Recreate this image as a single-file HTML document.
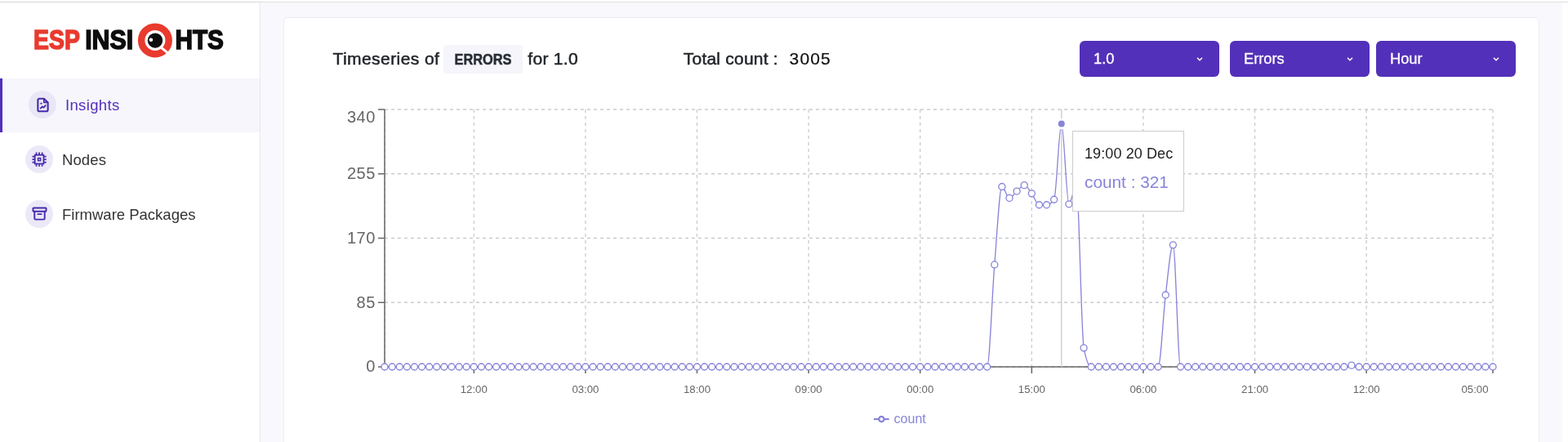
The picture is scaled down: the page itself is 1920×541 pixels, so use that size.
<!DOCTYPE html>
<html lang="en">
<head>
<meta charset="utf-8">
<title>ESP Insights</title>
<style>
*{box-sizing:border-box;margin:0;padding:0}
html,body{width:1920px;height:541px;overflow:hidden;background:#f9f9fd;font-family:"Liberation Sans",sans-serif;color:#212529}
body{position:relative}
.topbar{position:absolute;left:0;top:0;width:1920px;height:3px;background:#fff;border-bottom:1px solid #dedede}
.topbar i{position:absolute;left:0;top:2px;width:319px;height:1px;background:#d6d6d6}
.scroll{position:absolute;left:1913px;top:3px;width:7px;height:538px;background:#fff}
.side{position:absolute;left:0;top:3px;width:319px;height:538px;background:#fff;border-right:1px solid #e8e8f1}
.logo{position:absolute;left:0;top:0;width:319px;height:96px}
.nav{position:absolute;left:0;width:318px;height:66px}
.nav.on{top:96px;background:#f6f6fc;border-left:3px solid #5330b9}
.nav .ic{position:absolute;width:34px;height:34px;border-radius:50%;background:#ebe9f7}
.nav .gi{position:absolute}
.nav .tx{position:absolute;font-size:18.5px;line-height:22px;white-space:nowrap;color:#333}
.nav.on .tx{color:#5330b9}
.card{position:absolute;left:347px;top:21px;width:1537.5px;height:540px;background:#fff;border:1px solid #ebebf3;border-radius:5px}
.t{position:absolute;white-space:nowrap;font-size:21px;line-height:24px;color:#212529}
.m{-webkit-text-stroke:0.5px currentColor}
.badge{position:absolute;left:543px;top:55px;width:97px;height:35px;background:#f5f5fb;border-radius:3px}
.badge span{position:absolute;left:0;top:0;width:97px;height:35px;line-height:35px;text-align:center;font-weight:700;font-size:19px;color:#2a2d34;transform:scaleX(.86);-webkit-text-stroke:0.5px #2a2d34}
.dd{position:absolute;top:50px;width:171px;height:44px;background:#5330b9;border-radius:6px;color:#fff;font-size:18.3px;line-height:44px;padding-left:17px;-webkit-text-stroke:0.3px #fff}
.dd svg{position:absolute;right:19.8px;top:20.3px}
.chart{position:absolute;left:0;top:0}
.chart .xl{font-size:13.2px}
.chart .yl{font-size:20px;letter-spacing:.5px}
.chart .lg text{font-size:16px}
.tip{position:absolute;left:1313px;top:160px;width:137px;height:99px;background:#fff;border:1px solid #ccc}
.tip .a{position:absolute;left:14px;top:16px;font-size:18px;line-height:22px;color:#222;white-space:nowrap;letter-spacing:.1px}
.tip .b{position:absolute;left:14px;top:50px;font-size:20.8px;line-height:24px;color:#8884d8;white-space:nowrap}
</style>
</head>
<body>
<div class="topbar"><i></i></div>
<div class="scroll"></div>
<div class="side">
  <div class="logo">
    <svg width="319" height="96" viewBox="0 0 319 96" style="position:absolute;left:0;top:-3px">
      <g font-family="Liberation Sans, sans-serif" font-weight="700" font-size="32.5" stroke-width="1.5" stroke-linejoin="miter">
        <text x="41.1" y="60.3" fill="#e93a2e" stroke="#e93a2e" textLength="56.8" lengthAdjust="spacingAndGlyphs">ESP</text>
        <text x="104.2" y="60.3" fill="#0d0d0d" stroke="#0d0d0d" textLength="58.9" lengthAdjust="spacingAndGlyphs">INSI</text>
        <text x="214.4" y="60.3" fill="#0d0d0d" stroke="#0d0d0d" textLength="59.6" lengthAdjust="spacingAndGlyphs">HTS</text>
      </g>
      <circle cx="189.9" cy="49.4" r="16.75" fill="#fff" stroke="#e93a2e" stroke-width="8.5"/>
      <path d="M196.5,57.5 L208,66.8" stroke="#fff" stroke-width="3" fill="none"/>
      <circle cx="190" cy="49.6" r="9.2" fill="#0d0d0d"/>
      <circle cx="184.9" cy="48.8" r="2.3" fill="#fff"/>
    </svg>
  </div>
  <div class="nav on" style="top:93px">
    <div class="ic" style="left:31.6px;top:15.3px;background:#e9e7f5"></div>
    <svg class="gi" style="left:38.6px;top:21.8px" width="21" height="21" viewBox="0 0 24 24" fill="none" stroke="#472aac" stroke-width="2.4" stroke-linejoin="round" stroke-linecap="round"><path d="M13.5 3.1H7a2 2 0 0 0-2 2v13.8a2 2 0 0 0 2 2h10a2 2 0 0 0 2-2V8.6z"/><path d="M13.5 3.3V8.5h5.3" stroke-width="1.9"/><path d="M8.8 16.6l2.4-2.4 1.9 1.3 2.6-2.9" stroke-width="2.1"/><path d="M9.3 9.9h.7" stroke-width="2.1"/></svg>
    <div class="tx" style="left:77px;top:22px;letter-spacing:.34px">Insights</div>
  </div>
  <div class="nav" style="top:159px">
    <div class="ic" style="left:31px;top:16.2px"></div>
    <svg class="gi" style="left:37.7px;top:23.1px" width="20.2" height="20.2" viewBox="0 0 24 24" fill="none" stroke="#472aac" stroke-width="2.1" stroke-linejoin="miter" stroke-linecap="butt"><rect x="5.6" y="5.6" width="12.8" height="12.8"/><rect x="10.2" y="10.2" width="3.6" height="3.6" stroke-width="1.9"/><path d="M7.8 1.8v3M12 1.8v3M16.2 1.8v3M7.8 19.2v3M12 19.2v3M16.2 19.2v3M1.8 7.8h3M1.8 12h3M1.8 16.2h3M19.2 7.8h3M19.2 12h3M19.2 16.2h3" stroke-width="2.1"/></svg>
    <div class="tx" style="left:76px;top:23px;letter-spacing:.1px">Nodes</div>
  </div>
  <div class="nav" style="top:226px">
    <div class="ic" style="left:31px;top:16px"></div>
    <svg class="gi" style="left:37.6px;top:22.2px" width="21" height="21" viewBox="0 0 24 24" fill="none" stroke="#472aac" stroke-width="2.2" stroke-linejoin="round" stroke-linecap="round"><rect x="2.8" y="3.9" width="18.4" height="5" rx=".8"/><path d="M4.9 9v9.7a1.4 1.4 0 0 0 1.4 1.4h11.4a1.4 1.4 0 0 0 1.4-1.4V9"/><path d="M9.4 12.7h5.2" stroke-width="2"/></svg>
    <div class="tx" style="left:76px;top:23px">Firmware Packages</div>
  </div>
</div>
<div class="card"></div>
<div class="t m" style="left:407.5px;top:60px;letter-spacing:.43px">Timeseries of</div>
<div class="badge"><span>ERRORS</span></div>
<div class="t m" style="left:646.3px;top:60px;letter-spacing:.3px">for 1.0</div>
<div class="t m" style="left:836.8px;top:60px;letter-spacing:.22px">Total count :</div>
<div class="t" style="left:966.6px;top:60px;letter-spacing:1.15px;color:#111;-webkit-text-stroke:.2px #111">3005</div>
<div class="dd" style="left:1322px">1.0<svg width="8" height="5" viewBox="0 0 8 5"><path d="M1 .8l3 3 3-3" fill="none" stroke="#fff" stroke-width="1.5"/></svg></div>
<div class="dd" style="left:1506px">Errors<svg width="8" height="5" viewBox="0 0 8 5"><path d="M1 .8l3 3 3-3" fill="none" stroke="#fff" stroke-width="1.5"/></svg></div>
<div class="dd" style="left:1685px">Hour<svg width="8" height="5" viewBox="0 0 8 5"><path d="M1 .8l3 3 3-3" fill="none" stroke="#fff" stroke-width="1.5"/></svg></div>
<svg class="chart" width="1920" height="541" viewBox="0 0 1920 541">
<g stroke="#ccc" stroke-width="1.33" stroke-dasharray="4 4" fill="none"><line x1="471" y1="449.00" x2="1828" y2="449.00"/><line x1="471" y1="370.25" x2="1828" y2="370.25"/><line x1="471" y1="291.50" x2="1828" y2="291.50"/><line x1="471" y1="212.75" x2="1828" y2="212.75"/><line x1="471" y1="134.00" x2="1828" y2="134.00"/><line x1="471.00" y1="134" x2="471.00" y2="449"/><line x1="580.29" y1="134" x2="580.29" y2="449"/><line x1="716.90" y1="134" x2="716.90" y2="449"/><line x1="853.51" y1="134" x2="853.51" y2="449"/><line x1="990.12" y1="134" x2="990.12" y2="449"/><line x1="1126.73" y1="134" x2="1126.73" y2="449"/><line x1="1263.34" y1="134" x2="1263.34" y2="449"/><line x1="1399.95" y1="134" x2="1399.95" y2="449"/><line x1="1536.56" y1="134" x2="1536.56" y2="449"/><line x1="1673.17" y1="134" x2="1673.17" y2="449"/><line x1="1828.00" y1="134" x2="1828.00" y2="449"/></g>
<g stroke="#666" stroke-width="1.5" fill="none"><line x1="471.0" y1="449.0" x2="1828.0" y2="449.0"/><line x1="580.29" y1="449" x2="580.29" y2="457"/><line x1="716.90" y1="449" x2="716.90" y2="457"/><line x1="853.51" y1="449" x2="853.51" y2="457"/><line x1="990.12" y1="449" x2="990.12" y2="457"/><line x1="1126.73" y1="449" x2="1126.73" y2="457"/><line x1="1263.34" y1="449" x2="1263.34" y2="457"/><line x1="1399.95" y1="449" x2="1399.95" y2="457"/><line x1="1536.56" y1="449" x2="1536.56" y2="457"/><line x1="1673.17" y1="449" x2="1673.17" y2="457"/><line x1="1828.00" y1="449" x2="1828.00" y2="457"/></g>
<g stroke="#666" stroke-width="1.5" fill="none"><line x1="471.0" y1="134.0" x2="471.0" y2="449.0"/><line x1="463" y1="449.00" x2="471" y2="449.00"/><line x1="463" y1="370.25" x2="471" y2="370.25"/><line x1="463" y1="291.50" x2="471" y2="291.50"/><line x1="463" y1="212.75" x2="471" y2="212.75"/><line x1="463" y1="134.00" x2="471" y2="134.00"/></g>
<g class="xl" fill="#666" text-anchor="middle"><text x="580.29" y="480.9">12:00</text><text x="716.90" y="480.9">03:00</text><text x="853.51" y="480.9">18:00</text><text x="990.12" y="480.9">09:00</text><text x="1126.73" y="480.9">00:00</text><text x="1263.34" y="480.9">15:00</text><text x="1399.95" y="480.9">06:00</text><text x="1536.56" y="480.9">21:00</text><text x="1673.17" y="480.9">12:00</text><text x="1806.00" y="480.9">05:00</text></g>
<g class="yl" fill="#666" text-anchor="end"><text x="459.8" y="455.40">0</text><text x="459.8" y="376.65">85</text><text x="459.8" y="297.90">170</text><text x="459.8" y="219.15">255</text><text x="459.8" y="150.30">340</text></g>
<line x1="1299.77" y1="134.0" x2="1299.77" y2="449.0" stroke="#ccc" stroke-width="1.33"/>
<path d="M471.00,449.00C474.04,449.00,477.07,449.00,480.11,449.00C483.14,449.00,486.18,449.00,489.21,449.00C492.25,449.00,495.29,449.00,498.32,449.00C501.36,449.00,504.39,449.00,507.43,449.00C510.47,449.00,513.50,449.00,516.54,449.00C519.57,449.00,522.61,449.00,525.64,449.00C528.68,449.00,531.72,449.00,534.75,449.00C537.79,449.00,540.82,449.00,543.86,449.00C546.89,449.00,549.93,449.00,552.97,449.00C556.00,449.00,559.04,449.00,562.07,449.00C565.11,449.00,568.15,449.00,571.18,449.00C574.22,449.00,577.25,449.00,580.29,449.00C583.32,449.00,586.36,449.00,589.40,449.00C592.43,449.00,595.47,449.00,598.50,449.00C601.54,449.00,604.57,449.00,607.61,449.00C610.65,449.00,613.68,449.00,616.72,449.00C619.75,449.00,622.79,449.00,625.83,449.00C628.86,449.00,631.90,449.00,634.93,449.00C637.97,449.00,641.00,449.00,644.04,449.00C647.08,449.00,650.11,449.00,653.15,449.00C656.18,449.00,659.22,449.00,662.26,449.00C665.29,449.00,668.33,449.00,671.36,449.00C674.40,449.00,677.43,449.00,680.47,449.00C683.51,449.00,686.54,449.00,689.58,449.00C692.61,449.00,695.65,449.00,698.68,449.00C701.72,449.00,704.76,449.00,707.79,449.00C710.83,449.00,713.86,449.00,716.90,449.00C719.94,449.00,722.97,449.00,726.01,449.00C729.04,449.00,732.08,449.00,735.11,449.00C738.15,449.00,741.19,449.00,744.22,449.00C747.26,449.00,750.29,449.00,753.33,449.00C756.36,449.00,759.40,449.00,762.44,449.00C765.47,449.00,768.51,449.00,771.54,449.00C774.58,449.00,777.62,449.00,780.65,449.00C783.69,449.00,786.72,449.00,789.76,449.00C792.79,449.00,795.83,449.00,798.87,449.00C801.90,449.00,804.94,449.00,807.97,449.00C811.01,449.00,814.04,449.00,817.08,449.00C820.12,449.00,823.15,449.00,826.19,449.00C829.22,449.00,832.26,449.00,835.30,449.00C838.33,449.00,841.37,449.00,844.40,449.00C847.44,449.00,850.47,449.00,853.51,449.00C856.55,449.00,859.58,449.00,862.62,449.00C865.65,449.00,868.69,449.00,871.72,449.00C874.76,449.00,877.80,449.00,880.83,449.00C883.87,449.00,886.90,449.00,889.94,449.00C892.98,449.00,896.01,449.00,899.05,449.00C902.08,449.00,905.12,449.00,908.15,449.00C911.19,449.00,914.23,449.00,917.26,449.00C920.30,449.00,923.33,449.00,926.37,449.00C929.40,449.00,932.44,449.00,935.48,449.00C938.51,449.00,941.55,449.00,944.58,449.00C947.62,449.00,950.66,449.00,953.69,449.00C956.73,449.00,959.76,449.00,962.80,449.00C965.83,449.00,968.87,449.00,971.91,449.00C974.94,449.00,977.98,449.00,981.01,449.00C984.05,449.00,987.09,449.00,990.12,449.00C993.16,449.00,996.19,449.00,999.23,449.00C1002.26,449.00,1005.30,449.00,1008.34,449.00C1011.37,449.00,1014.41,449.00,1017.44,449.00C1020.48,449.00,1023.51,449.00,1026.55,449.00C1029.59,449.00,1032.62,449.00,1035.66,449.00C1038.69,449.00,1041.73,449.00,1044.77,449.00C1047.80,449.00,1050.84,449.00,1053.87,449.00C1056.91,449.00,1059.94,449.00,1062.98,449.00C1066.02,449.00,1069.05,449.00,1072.09,449.00C1075.12,449.00,1078.16,449.00,1081.19,449.00C1084.23,449.00,1087.27,449.00,1090.30,449.00C1093.34,449.00,1096.37,449.00,1099.41,449.00C1102.45,449.00,1105.48,449.00,1108.52,449.00C1111.55,449.00,1114.59,449.00,1117.62,449.00C1120.66,449.00,1123.70,449.00,1126.73,449.00C1129.77,449.00,1132.80,449.00,1135.84,449.00C1138.87,449.00,1141.91,449.00,1144.95,449.00C1147.98,449.00,1151.02,449.00,1154.05,449.00C1157.09,449.00,1160.13,449.00,1163.16,449.00C1166.20,449.00,1169.23,449.00,1172.27,449.00C1175.30,449.00,1178.34,449.00,1181.38,449.00C1184.41,449.00,1187.45,449.00,1190.48,449.00C1193.52,449.00,1196.55,449.00,1199.59,449.00C1202.63,449.00,1205.66,449.00,1208.70,449.00C1211.73,449.00,1214.77,360.68,1217.81,323.93C1220.84,287.18,1223.88,228.50,1226.91,228.50C1229.95,228.50,1232.98,242.40,1236.02,242.40C1239.06,242.40,1242.09,236.68,1245.13,234.06C1248.16,231.43,1251.20,226.65,1254.23,226.65C1257.27,226.65,1260.31,232.82,1263.34,236.84C1266.38,240.85,1269.41,250.74,1272.45,250.74C1275.49,250.74,1278.52,250.74,1281.56,250.74C1284.59,250.74,1287.63,248.57,1290.66,244.25C1293.70,239.93,1296.74,151.60,1299.77,151.60C1302.81,151.60,1305.84,249.81,1308.88,249.81C1311.91,249.81,1314.95,226.65,1317.99,226.65C1321.02,226.65,1324.06,410.40,1327.09,425.84C1330.13,441.28,1333.17,449.00,1336.20,449.00C1339.24,449.00,1342.27,449.00,1345.31,449.00C1348.34,449.00,1351.38,449.00,1354.42,449.00C1357.45,449.00,1360.49,449.00,1363.52,449.00C1366.56,449.00,1369.60,449.00,1372.63,449.00C1375.67,449.00,1378.70,449.00,1381.74,449.00C1384.77,449.00,1387.81,449.00,1390.85,449.00C1393.88,449.00,1396.92,449.00,1399.95,449.00C1402.99,449.00,1406.02,449.00,1409.06,449.00C1412.10,449.00,1415.13,449.00,1418.17,449.00C1421.20,449.00,1424.24,385.85,1427.28,360.99C1430.31,336.12,1433.35,299.84,1436.38,299.84C1439.42,299.84,1442.45,449.00,1445.49,449.00C1448.53,449.00,1451.56,449.00,1454.60,449.00C1457.63,449.00,1460.67,449.00,1463.70,449.00C1466.74,449.00,1469.78,449.00,1472.81,449.00C1475.85,449.00,1478.88,449.00,1481.92,449.00C1484.96,449.00,1487.99,449.00,1491.03,449.00C1494.06,449.00,1497.10,449.00,1500.13,449.00C1503.17,449.00,1506.21,449.00,1509.24,449.00C1512.28,449.00,1515.31,449.00,1518.35,449.00C1521.38,449.00,1524.42,449.00,1527.46,449.00C1530.49,449.00,1533.53,449.00,1536.56,449.00C1539.60,449.00,1542.64,449.00,1545.67,449.00C1548.71,449.00,1551.74,449.00,1554.78,449.00C1557.81,449.00,1560.85,449.00,1563.89,449.00C1566.92,449.00,1569.96,449.00,1572.99,449.00C1576.03,449.00,1579.06,449.00,1582.10,449.00C1585.14,449.00,1588.17,449.00,1591.21,449.00C1594.24,449.00,1597.28,449.00,1600.32,449.00C1603.35,449.00,1606.39,449.00,1609.42,449.00C1612.46,449.00,1615.49,449.00,1618.53,449.00C1621.57,449.00,1624.60,449.00,1627.64,449.00C1630.67,449.00,1633.71,449.00,1636.74,449.00C1639.78,449.00,1642.82,449.00,1645.85,449.00C1648.89,449.00,1651.92,447.15,1654.96,447.15C1658.00,447.15,1661.03,449.00,1664.07,449.00C1667.10,449.00,1670.14,449.00,1673.17,449.00C1676.21,449.00,1679.25,449.00,1682.28,449.00C1685.32,449.00,1688.35,449.00,1691.39,449.00C1694.43,449.00,1697.46,449.00,1700.50,449.00C1703.53,449.00,1706.57,449.00,1709.60,449.00C1712.64,449.00,1715.68,449.00,1718.71,449.00C1721.75,449.00,1724.78,449.00,1727.82,449.00C1730.85,449.00,1733.89,449.00,1736.93,449.00C1739.96,449.00,1743.00,449.00,1746.03,449.00C1749.07,449.00,1752.11,449.00,1755.14,449.00C1758.18,449.00,1761.21,449.00,1764.25,449.00C1767.28,449.00,1770.32,449.00,1773.36,449.00C1776.39,449.00,1779.43,449.00,1782.46,449.00C1785.50,449.00,1788.53,449.00,1791.57,449.00C1794.61,449.00,1797.64,449.00,1800.68,449.00C1803.71,449.00,1806.75,449.00,1809.79,449.00C1812.82,449.00,1815.86,449.00,1818.89,449.00C1821.93,449.00,1824.96,449.00,1828.00,449.00" fill="none" stroke="#8884d8" stroke-width="1.33"/>
<g fill="#fff" stroke="#8884d8" stroke-width="1.33"><circle cx="471.00" cy="449.00" r="4"/><circle cx="480.11" cy="449.00" r="4"/><circle cx="489.21" cy="449.00" r="4"/><circle cx="498.32" cy="449.00" r="4"/><circle cx="507.43" cy="449.00" r="4"/><circle cx="516.54" cy="449.00" r="4"/><circle cx="525.64" cy="449.00" r="4"/><circle cx="534.75" cy="449.00" r="4"/><circle cx="543.86" cy="449.00" r="4"/><circle cx="552.97" cy="449.00" r="4"/><circle cx="562.07" cy="449.00" r="4"/><circle cx="571.18" cy="449.00" r="4"/><circle cx="580.29" cy="449.00" r="4"/><circle cx="589.40" cy="449.00" r="4"/><circle cx="598.50" cy="449.00" r="4"/><circle cx="607.61" cy="449.00" r="4"/><circle cx="616.72" cy="449.00" r="4"/><circle cx="625.83" cy="449.00" r="4"/><circle cx="634.93" cy="449.00" r="4"/><circle cx="644.04" cy="449.00" r="4"/><circle cx="653.15" cy="449.00" r="4"/><circle cx="662.26" cy="449.00" r="4"/><circle cx="671.36" cy="449.00" r="4"/><circle cx="680.47" cy="449.00" r="4"/><circle cx="689.58" cy="449.00" r="4"/><circle cx="698.68" cy="449.00" r="4"/><circle cx="707.79" cy="449.00" r="4"/><circle cx="716.90" cy="449.00" r="4"/><circle cx="726.01" cy="449.00" r="4"/><circle cx="735.11" cy="449.00" r="4"/><circle cx="744.22" cy="449.00" r="4"/><circle cx="753.33" cy="449.00" r="4"/><circle cx="762.44" cy="449.00" r="4"/><circle cx="771.54" cy="449.00" r="4"/><circle cx="780.65" cy="449.00" r="4"/><circle cx="789.76" cy="449.00" r="4"/><circle cx="798.87" cy="449.00" r="4"/><circle cx="807.97" cy="449.00" r="4"/><circle cx="817.08" cy="449.00" r="4"/><circle cx="826.19" cy="449.00" r="4"/><circle cx="835.30" cy="449.00" r="4"/><circle cx="844.40" cy="449.00" r="4"/><circle cx="853.51" cy="449.00" r="4"/><circle cx="862.62" cy="449.00" r="4"/><circle cx="871.72" cy="449.00" r="4"/><circle cx="880.83" cy="449.00" r="4"/><circle cx="889.94" cy="449.00" r="4"/><circle cx="899.05" cy="449.00" r="4"/><circle cx="908.15" cy="449.00" r="4"/><circle cx="917.26" cy="449.00" r="4"/><circle cx="926.37" cy="449.00" r="4"/><circle cx="935.48" cy="449.00" r="4"/><circle cx="944.58" cy="449.00" r="4"/><circle cx="953.69" cy="449.00" r="4"/><circle cx="962.80" cy="449.00" r="4"/><circle cx="971.91" cy="449.00" r="4"/><circle cx="981.01" cy="449.00" r="4"/><circle cx="990.12" cy="449.00" r="4"/><circle cx="999.23" cy="449.00" r="4"/><circle cx="1008.34" cy="449.00" r="4"/><circle cx="1017.44" cy="449.00" r="4"/><circle cx="1026.55" cy="449.00" r="4"/><circle cx="1035.66" cy="449.00" r="4"/><circle cx="1044.77" cy="449.00" r="4"/><circle cx="1053.87" cy="449.00" r="4"/><circle cx="1062.98" cy="449.00" r="4"/><circle cx="1072.09" cy="449.00" r="4"/><circle cx="1081.19" cy="449.00" r="4"/><circle cx="1090.30" cy="449.00" r="4"/><circle cx="1099.41" cy="449.00" r="4"/><circle cx="1108.52" cy="449.00" r="4"/><circle cx="1117.62" cy="449.00" r="4"/><circle cx="1126.73" cy="449.00" r="4"/><circle cx="1135.84" cy="449.00" r="4"/><circle cx="1144.95" cy="449.00" r="4"/><circle cx="1154.05" cy="449.00" r="4"/><circle cx="1163.16" cy="449.00" r="4"/><circle cx="1172.27" cy="449.00" r="4"/><circle cx="1181.38" cy="449.00" r="4"/><circle cx="1190.48" cy="449.00" r="4"/><circle cx="1199.59" cy="449.00" r="4"/><circle cx="1208.70" cy="449.00" r="4"/><circle cx="1217.81" cy="323.93" r="4"/><circle cx="1226.91" cy="228.50" r="4"/><circle cx="1236.02" cy="242.40" r="4"/><circle cx="1245.13" cy="234.06" r="4"/><circle cx="1254.23" cy="226.65" r="4"/><circle cx="1263.34" cy="236.84" r="4"/><circle cx="1272.45" cy="250.74" r="4"/><circle cx="1281.56" cy="250.74" r="4"/><circle cx="1290.66" cy="244.25" r="4"/><circle cx="1299.77" cy="151.60" r="4"/><circle cx="1308.88" cy="249.81" r="4"/><circle cx="1317.99" cy="226.65" r="4"/><circle cx="1327.09" cy="425.84" r="4"/><circle cx="1336.20" cy="449.00" r="4"/><circle cx="1345.31" cy="449.00" r="4"/><circle cx="1354.42" cy="449.00" r="4"/><circle cx="1363.52" cy="449.00" r="4"/><circle cx="1372.63" cy="449.00" r="4"/><circle cx="1381.74" cy="449.00" r="4"/><circle cx="1390.85" cy="449.00" r="4"/><circle cx="1399.95" cy="449.00" r="4"/><circle cx="1409.06" cy="449.00" r="4"/><circle cx="1418.17" cy="449.00" r="4"/><circle cx="1427.28" cy="360.99" r="4"/><circle cx="1436.38" cy="299.84" r="4"/><circle cx="1445.49" cy="449.00" r="4"/><circle cx="1454.60" cy="449.00" r="4"/><circle cx="1463.70" cy="449.00" r="4"/><circle cx="1472.81" cy="449.00" r="4"/><circle cx="1481.92" cy="449.00" r="4"/><circle cx="1491.03" cy="449.00" r="4"/><circle cx="1500.13" cy="449.00" r="4"/><circle cx="1509.24" cy="449.00" r="4"/><circle cx="1518.35" cy="449.00" r="4"/><circle cx="1527.46" cy="449.00" r="4"/><circle cx="1536.56" cy="449.00" r="4"/><circle cx="1545.67" cy="449.00" r="4"/><circle cx="1554.78" cy="449.00" r="4"/><circle cx="1563.89" cy="449.00" r="4"/><circle cx="1572.99" cy="449.00" r="4"/><circle cx="1582.10" cy="449.00" r="4"/><circle cx="1591.21" cy="449.00" r="4"/><circle cx="1600.32" cy="449.00" r="4"/><circle cx="1609.42" cy="449.00" r="4"/><circle cx="1618.53" cy="449.00" r="4"/><circle cx="1627.64" cy="449.00" r="4"/><circle cx="1636.74" cy="449.00" r="4"/><circle cx="1645.85" cy="449.00" r="4"/><circle cx="1654.96" cy="447.15" r="4"/><circle cx="1664.07" cy="449.00" r="4"/><circle cx="1673.17" cy="449.00" r="4"/><circle cx="1682.28" cy="449.00" r="4"/><circle cx="1691.39" cy="449.00" r="4"/><circle cx="1700.50" cy="449.00" r="4"/><circle cx="1709.60" cy="449.00" r="4"/><circle cx="1718.71" cy="449.00" r="4"/><circle cx="1727.82" cy="449.00" r="4"/><circle cx="1736.93" cy="449.00" r="4"/><circle cx="1746.03" cy="449.00" r="4"/><circle cx="1755.14" cy="449.00" r="4"/><circle cx="1764.25" cy="449.00" r="4"/><circle cx="1773.36" cy="449.00" r="4"/><circle cx="1782.46" cy="449.00" r="4"/><circle cx="1791.57" cy="449.00" r="4"/><circle cx="1800.68" cy="449.00" r="4"/><circle cx="1809.79" cy="449.00" r="4"/><circle cx="1818.89" cy="449.00" r="4"/><circle cx="1828.00" cy="449.00" r="4"/></g>
<circle cx="1299.77" cy="151.60" r="5.33" fill="#8884d8" stroke="#fff" stroke-width="2.67"/>
<g class="lg"><path d="M1070,513h18.7" stroke="#8884d8" stroke-width="2.2" fill="none"/><circle cx="1079.35" cy="513" r="3.1" fill="#fff" stroke="#8884d8" stroke-width="2.3"/><text x="1094.6" y="517.9" fill="#8884d8">count</text></g>
</svg>
<div class="tip"><div class="a">19:00 20 Dec</div><div class="b">count : 321</div></div>
</body>
</html>
